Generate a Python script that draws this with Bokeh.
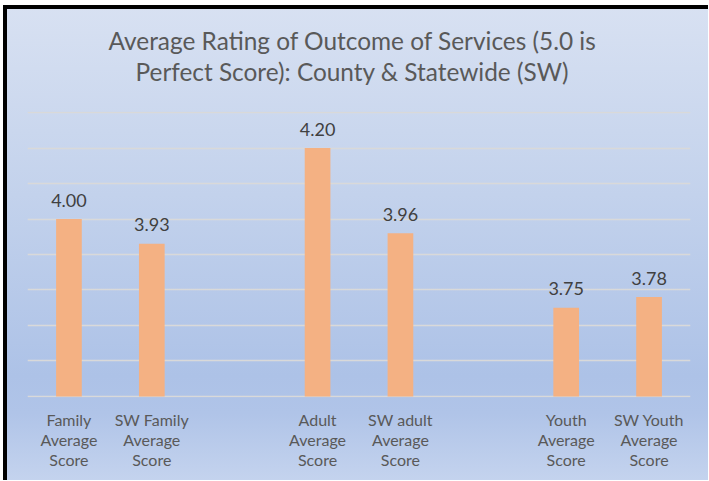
from bokeh.plotting import figure
from bokeh.models import FactorRange, Range1d, FixedTicker, ColumnDataSource, LabelSet, Title
from bokeh.core.properties import value
from bokeh.embed import file_html
from bokeh.resources import INLINE

# ---- data ----
categories = [
    "Family\nAverage\nScore",
    "SW Family\nAverage\nScore",
    "Adult\nAverage\nScore",
    "SW adult\nAverage\nScore",
    "Youth\nAverage\nScore",
    "SW Youth\nAverage\nScore",
]
values = [4.00, 3.93, 4.20, 3.96, 3.75, 3.78]
value_labels = ["4.00", "3.93", "4.20", "3.96", "3.75", "3.78"]
# blank slots that separate the groups on the category axis
axis_factors = [categories[0], categories[1], " ",
                categories[2], categories[3], "  ",
                categories[4], categories[5]]
y_ticks = [3.5, 3.6, 3.7, 3.8, 3.9, 4.0, 4.1, 4.2, 4.3]
title_line1 = "Average Rating of Outcome of Services (5.0 is"
title_line2 = "Perfect Score): County & Statewide (SW)"

FONT = "Lato"

src = ColumnDataSource(dict(cat=categories, val=values, lab=value_labels))

p = figure(
    x_range=FactorRange(factors=axis_factors, range_padding=0),
    y_range=Range1d(3.497, 4.303),
    width=705, height=475,
    output_backend="svg", toolbar_location=None,
    min_border_left=24, min_border_right=18,
    min_border_top=106, min_border_bottom=83,
)

p.styles = {
    "position": "absolute",
    "left": "3px",
    "top": "5px",
    "background": (
        "linear-gradient(#000,#000) 0 0 / 4px 100% no-repeat, "
        "linear-gradient(#000,#000) 0 0 / 100% 4px no-repeat, "
        "linear-gradient(to bottom, #d8e1f2 0%, #c3d2ec 40%, #adc2e7 78%, #b0c4e8 86%, #c4d3ee 100%)"
    ),
}
p.background_fill_alpha = 0
p.border_fill_alpha = 0
p.outline_line_color = None

p.title = None
spacer = Title(text=" ", text_font_size="1px", standoff=23)
t2 = Title(text=title_line2, align="left", offset=108, text_font=FONT, text_font_size="24.4px",
           text_font_style="normal", text_color="#595959", standoff=0)
t1 = Title(text=title_line1, align="left", offset=81, text_font=FONT, text_font_size="24.4px",
           text_font_style="normal", text_color="#595959", standoff=0)
p.add_layout(spacer, "above")
p.add_layout(t2, "above")
p.add_layout(t1, "above")

p.vbar(x="cat", top="val", bottom=y_ticks[0], width=0.31, source=src,
       fill_color="#f4b183", line_color=None)

labels = LabelSet(x="cat", y="val", text="lab", source=src,
                  text_align="center", text_baseline="middle", y_offset=19,
                  text_font=value(FONT), text_font_size=value("18px"),
                  text_color=value("#404040"))
p.add_layout(labels)

p.yaxis.visible = False
p.ygrid.ticker = FixedTicker(ticks=y_ticks)
p.ygrid.grid_line_color = "#d9d9d9"
p.ygrid.grid_line_width = 1.5
p.xgrid.visible = False

ax = p.xaxis[0]
ax.axis_line_color = None
ax.major_tick_line_color = None
ax.minor_tick_line_color = None
ax.major_tick_out = 0
ax.major_label_standoff = 12
ax.major_label_text_font = FONT
ax.major_label_text_font_size = "16px"
ax.major_label_text_color = "#595959"
ax.major_label_text_line_height = 1.07

open("out.html", "w").write(file_html(p, INLINE))
